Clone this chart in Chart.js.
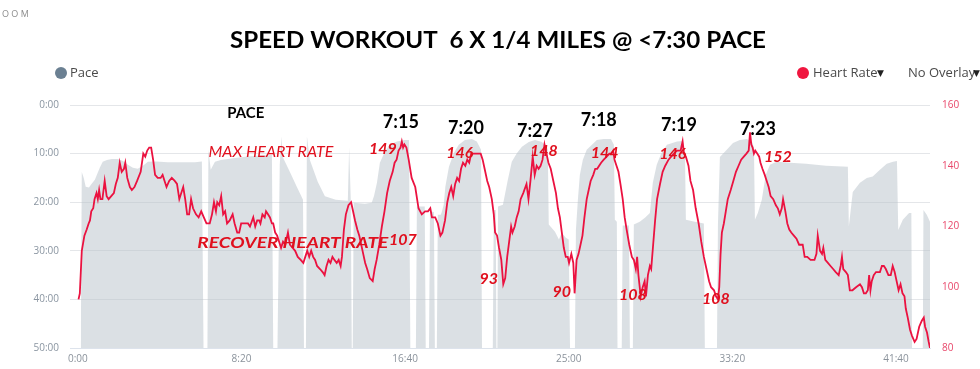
<!DOCTYPE html>
<html>
<head>
<meta charset="utf-8">
<title>Speed workout</title>
<script src="https://cdn.jsdelivr.net/npm/chart.js@4.4.1/dist/chart.umd.min.js"></script>
<style>
  html, body { margin: 0; padding: 0; background: #fff; }
  #chart { display: block; }
</style>
</head>
<body>
<canvas id="chart" width="980" height="369"></canvas>
<script>
// heart rate samples: elapsed seconds / bpm
const hrTime = [
  2,6,12,20,27,33,37,41,47,51,
  57,61,65,69,75,82,88,94,102,110,
  116,122,128,134,141,145,151,159,165,173,
  181,192,200,206,212,218,224,230,236,244,
  253,259,265,271,279,287,296,303,310,316,
  322,328,334,340,346,352,361,369,377,385,
  393,403,410,416,422,426,432,438,444,450,
  456,464,473,479,487,493,499,520,526,536,
  542,548,554,558,564,571,575,581,587,593,
  597,603,609,615,621,627,634,642,648,656,
  664,672,681,689,695,701,707,713,719,725,
  731,740,748,754,760,766,772,778,784,791,
  797,803,807,813,819,827,835,841,847,854,
  860,866,872,878,884,892,901,907,913,921,
  929,937,945,953,962,968,974,980,986,990,
  994,998,1004,1011,1020,1031,1041,1051,1061,1070,
  1077,1082,1092,1100,1108,1114,1122,1129,1135,1141,
  1147,1153,1159,1165,1171,1177,1184,1190,1196,1202,
  1208,1220,1231,1237,1243,1251,1257,1265,1271,1275,
  1281,1287,1294,1300,1306,1312,1318,1324,1328,1335,
  1341,1347,1353,1361,1371,1377,1383,1390,1396,1402,
  1408,1414,1420,1426,1432,1438,1445,1453,1461,1467,
  1473,1479,1485,1491,1497,1501,1508,1514,1518,1524,
  1530,1536,1542,1548,1555,1561,1567,1575,1581,1587,
  1593,1599,1607,1616,1624,1630,1636,1640,1646,1652,
  1658,1665,1671,1677,1685,1693,1699,1705,1709,1713,
  1720,1726,1732,1736,1742,1748,1752,1758,1764,1770,
  1779,1787,1795,1805,1813,1821,1831,1842,1848,1852,
  1858,1866,1872,1880,1888,1897,1905,1913,1921,1929,
  1935,1944,1950,1956,1960,1964,1968,1974,1980,1986,
  1995,2003,2011,2019,2027,2035,2043,2050,2054,2058,
  2062,2066,2070,2076,2082,2086,2092,2099,2105,2111,
  2117,2125,2133,2139,2145,2151,2155,2162,2168,2174,
  2180,2188,2196,2204,2215,2221,2229,2239,2251,2257,
  2261,2268,2274,2278,2284,2292,2300,2308,2316,2325,
  2331,2335,2339,2347,2353,2359,2367,2378,2390,2396,
  2402,2408,2414,2418,2422,2426,2432,2439,2451,2457,
  2463,2469,2477,2484,2490,2496,2502,2508,2514,2520,
  2526,2530,2536,2543,2549,2557,2563,2571,2579,2585,
  2589,2595,2600,2604
];
const hrBpm = [
  96,98,112,117,119,121,122,125,126,129,
  131,129,132,129,129,135,130,129,130,131,
  134,136,141,138,139,141,136,133,132,133,
  135,138,144,143,145,146,146,142,137,136,
  136,137,135,133,135,136,135,134,129,131,
  133,129,124,124,129,126,124,123,125,123,
  121,121,124,128,125,128,127,130,124,125,
  121,122,124,121,118,118,121,121,120,123,
  120,122,122,121,124,123,125,124,123,121,
  121,118,117,115,113,115,114,118,114,113,
  112,110,109,108,110,112,110,112,110,109,
  107,106,105,104,107,109,108,110,109,108,
  109,107,110,119,124,127,128,125,122,119,
  117,114,111,108,106,103,102,106,109,114,
  120,125,131,135,138,141,142,145,146,148,
  146,147,146,142,136,133,126,124,125,125,
  126,123,123,121,117,118,122,128,131,133,
  130,134,136,135,139,141,140,142,141,144,
  144,144,144,142,139,135,133,129,124,118,
  117,113,109,101,103,110,115,120,118,120,
  123,125,129,131,134,129,135,143,137,140,
  139,140,142,147,144,141,139,135,131,126,
  123,118,113,110,110,108,111,108,98,109,
  111,114,117,123,129,132,135,137,139,139,
  140,141,142,143,144,144,145,142,140,138,
  134,129,123,119,114,110,109,106,110,104,
  97,100,102,97,104,107,106,114,122,129,
  134,138,140,142,143,144,145,145,148,144,
  143,140,135,132,126,121,115,110,106,102,
  100,99,97,96,100,111,118,121,125,129,
  132,135,138,140,142,143,144,145,151,147,
  146,144,145,144,143,141,139,137,135,133,
  130,129,127,126,124,126,129,125,121,119,
  118,117,116,114,114,110,110,109,109,111,
  117,112,111,113,109,108,107,106,105,104,
  107,110,106,105,104,99,99,100,101,100,
  98,98,99,104,99,102,104,105,105,107,
  107,106,104,104,107,105,102,99,101,98,
  97,93,90,86,84,82,83,87,89,90,
  87,85,82,80
];

// pace samples: elapsed seconds / minutes per mile (50 = stopped)
const paceTime = [
  9,12,18,24,34,40,52,67,76,89,
  104,122,138,153,168,183,199,214,238,275,
  315,358,379,384,396,399,406,419,437,480,
  520,562,593,597,610,617,622,626,648,669,
  688,691,697,700,709,733,755,788,825,829,
  834,837,840,843,877,898,905,914,923,938,
  953,975,999,1012,1016,1033,1036,1060,1063,1073,
  1076,1088,1091,1097,1100,1109,1112,1118,1123,1134,
  1149,1164,1183,1204,1219,1232,1235,1268,1271,1277,
  1279,1282,1284,1299,1314,1326,1342,1357,1378,1397,
  1418,1433,1436,1439,1458,1470,1479,1491,1500,1504,
  1519,1522,1528,1534,1543,1555,1571,1586,1607,1629,
  1638,1641,1647,1649,1662,1665,1684,1687,1696,1699,
  1717,1733,1748,1757,1769,1782,1800,1831,1849,1855,
  1858,1885,1913,1916,1953,1956,1962,1983,2002,2023,
  2044,2060,2066,2069,2078,2090,2102,2115,2136,2176,
  2225,2286,2353,2356,2368,2390,2411,2429,2451,2472,
  2491,2503,2507,2521,2540,2547,2549,2582,2584,2594,
  2604
];
const paceMin = [
  50,13.8,15.0,16.8,17.0,16.4,15.4,12.9,11.7,11.3,
  11.1,11.1,11.5,12.3,12.9,13.1,12.5,11.7,11.6,11.8,
  11.8,11.8,11.6,50,50,9.2,13.3,11.7,11.3,10.9,
  10.6,10.4,10.3,50,50,12.3,6.5,10.7,13.8,16.8,
  19.5,50,50,6.5,11.3,15.8,18.8,19.5,19.7,8.8,
  19.5,50,50,20.1,20.3,20.1,18.7,16.0,11.9,9.6,
  8.2,7.5,7.2,7.2,50,50,20.9,20.9,50,50,
  21.9,22.0,50,50,22.6,22.6,22.0,20.5,16.8,12.7,
  9.9,8.2,7.2,7.0,7.5,9.2,50,50,21.6,21.6,
  50,50,20.9,20.5,15.4,11.7,9.9,8.6,7.6,7.2,
  7.6,8.6,9.2,24.6,26.1,27.7,26.3,27.3,27.7,50,
  50,25.7,19.5,14.4,11.3,9.2,8.2,7.2,7.0,7.0,
  8.2,23.6,24.0,50,50,24.8,24.8,50,50,24.6,
  24.0,23.2,22.2,16.0,12.3,10.1,8.2,7.5,7.4,9.2,
  23.6,24.0,24.4,50,50,24.6,10.7,9.2,7.8,7.2,
  7.0,7.5,8.8,23.6,22.2,19.5,14.4,12.3,11.7,11.9,
  12.1,12.5,12.7,25.0,17.9,16.0,15.0,14.7,13.3,12.1,
  11.7,11.5,25.7,23.6,22.2,22.2,50,50,21.6,22.6,
  24.0
];

const timeTicks = [0, 500, 1000, 1500, 2000, 2500];
const timeTickLabels = ['0:00', '8:20', '16:40', '25:00', '33:20', '41:40'];
const paceTicks = [0, 10, 20, 30, 40, 50];
const paceTickLabels = ['0:00', '10:00', '20:00', '30:00', '40:00', '50:00'];
const hrTicks = [80, 100, 120, 140, 160];

const titleText = 'SPEED WORKOUT  6 X 1/4 MILES @ <7:30 PACE';

// notes written on the chart, anchored at (seconds, bpm)
const splitTexts = ['7:15', '7:20', '7:27', '7:18', '7:19', '7:23'];
const splitTimes = [987, 1186, 1397, 1592, 1837, 2078];
const splitBpm = [154.4, 152.4, 151.4, 155.0, 153.4, 152.0];
const peakTexts = ['149', '146', '148', '144', '146', '152'];
const peakTimes = [932, 1167, 1424, 1610, 1818, 2139];
const peakBpm = [145.5, 144.1, 144.8, 144.4, 143.9, 142.8];
const lowTexts = ['107', '93', '90', '108', '108'];
const lowTimes = [993, 1256, 1479, 1696, 1950];
const lowBpm = [115.7, 102.8, 98.6, 97.5, 96.2];

const RED = '#e0101e';

function fitText(ctx, text, cx, cy, width, font, color) {
  ctx.save();
  ctx.font = font;
  ctx.fillStyle = color;
  ctx.textAlign = 'center';
  ctx.textBaseline = 'middle';
  const w = ctx.measureText(text).width;
  ctx.translate(cx, cy);
  if (width) ctx.scale(width / w, 1);
  ctx.fillText(text, 0, 0);
  ctx.restore();
}

function dot(ctx, x, y, r, color) {
  ctx.beginPath();
  ctx.arc(x, y, r, 0, Math.PI * 2);
  ctx.fillStyle = color;
  ctx.fill();
}

const decor = {
  id: 'decor',
  afterDraw(chart) {
    const ctx = chart.ctx;
    const xs = chart.scales.x;
    const ys = chart.scales.hr;
    ctx.save();

    // what is left of the zoom control
    ctx.font = '9px "Open Sans"';
    ctx.fillStyle = '#8c8c8c';
    ctx.textAlign = 'left';
    ctx.textBaseline = 'middle';
    ctx.fillText('O O M', 2, 14);

    fitText(ctx, titleText, 498, 41, 536, 'bold 23px Lato', '#000');

    // legend row
    dot(ctx, 61, 73, 6, '#6b8092');
    dot(ctx, 803, 73, 6, '#f0163f');
    ctx.font = '13px "Open Sans"';
    ctx.fillStyle = '#4a4a4a';
    ctx.textAlign = 'left';
    ctx.textBaseline = 'middle';
    ctx.fillText('Pace', 70, 73);
    ctx.fillText('Heart Rate', 813, 73);
    ctx.fillText('No Overlay', 908, 73);
    ctx.font = '9px "DejaVu Sans"';
    ctx.fillStyle = '#222';
    ctx.fillText('\u25BC', 877, 74);
    ctx.fillText('\u25BC', 973, 74);

    const px = t => xs.getPixelForValue(t);
    const py = v => ys.getPixelForValue(v);

    fitText(ctx, 'PACE', px(513), py(157.4), 37, 'bold 15px Lato', '#000');
    fitText(ctx, 'MAX HEART RATE', px(590), py(144.5), 125, 'italic 16px Lato', RED);
    fitText(ctx, 'RECOVER HEART RATE', px(657), py(114.7), 191, 'italic bold 16px Lato', RED);

    splitTexts.forEach((s, i) => fitText(ctx, s, px(splitTimes[i]), py(splitBpm[i]), 0, 'bold 18px Lato', '#000'));
    peakTexts.forEach((s, i) => fitText(ctx, s, px(peakTimes[i]), py(peakBpm[i]), 0, 'italic bold 16px Lato', RED));
    lowTexts.forEach((s, i) => fitText(ctx, s, px(lowTimes[i]), py(lowBpm[i]), 0, 'italic bold 16px Lato', RED));

    ctx.restore();
  }
};

const tickFont = { family: '"Open Sans"', size: 10 };

new Chart(document.getElementById('chart'), {
  type: 'line',
  data: {
    datasets: [
      {
        label: 'Heart Rate',
        yAxisID: 'hr',
        data: hrTime.map((t, i) => ({ x: t, y: hrBpm[i] })),
        borderColor: '#eb1240',
        borderWidth: 1.8,
        pointRadius: 0,
        tension: 0,
        fill: false,
        order: 0
      },
      {
        label: 'Pace',
        yAxisID: 'pace',
        data: paceTime.map((t, i) => ({ x: t, y: paceMin[i] })),
        borderWidth: 0,
        borderColor: 'rgba(0,0,0,0)',
        backgroundColor: 'rgba(184,193,202,0.5)',
        pointRadius: 0,
        tension: 0,
        fill: { value: 50 },
        order: 1
      }
    ]
  },
  options: {
    responsive: false,
    animation: false,
    layout: { padding: { top: 105, left: 0, right: 0, bottom: 0 } },
    plugins: {
      legend: { display: false },
      tooltip: { enabled: false },
      title: { display: false },
      filler: { drawTime: 'beforeDatasetsDraw' }
    },
    scales: {
      x: {
        type: 'linear',
        min: -24,
        max: 2604,
        afterBuildTicks: s => { s.ticks = timeTicks.map(v => ({ value: v })); },
        afterFit: s => { s.height = 21; },
        grid: { display: false, drawTicks: false },
        border: { display: true, color: '#dde3ec' },
        ticks: {
          font: tickFont,
          color: '#8a929b',
          padding: 5,
          maxRotation: 0,
          autoSkip: false,
          callback: (v, i) => timeTickLabels[i]
        }
      },
      pace: {
        type: 'linear',
        position: 'left',
        reverse: true,
        min: 0,
        max: 50,
        afterBuildTicks: s => { s.ticks = paceTicks.map(v => ({ value: v })); },
        afterFit: s => { s.width = 70; },
        grid: { color: '#e4e6e9', drawTicks: false },
        border: { display: false },
        ticks: {
          font: tickFont,
          color: '#8a95a1',
          padding: 11,
          callback: (v, i) => paceTickLabels[i]
        }
      },
      hr: {
        type: 'linear',
        position: 'right',
        min: 80,
        max: 160,
        afterBuildTicks: s => { s.ticks = hrTicks.map(v => ({ value: v })); },
        afterFit: s => { s.width = 50; },
        grid: { display: false, drawTicks: false },
        border: { display: false },
        ticks: {
          font: tickFont,
          color: '#e8476a',
          padding: 12
        }
      }
    }
  },
  plugins: [decor]
});
</script>
</body>
</html>
